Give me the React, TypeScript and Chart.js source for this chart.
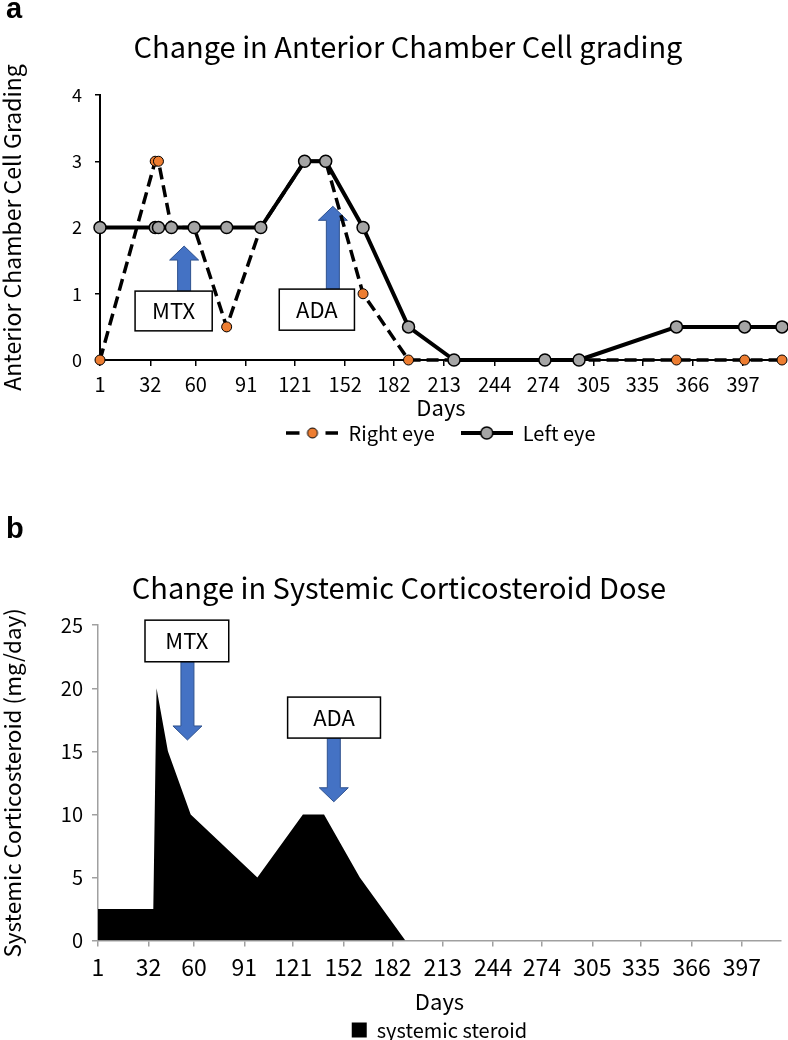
import React, { useEffect, useRef } from 'react';
import { Chart, registerables } from 'chart.js';

Chart.register(...registerables);

// ---------- data ----------
const dayTicks = [1, 32, 60, 91, 121, 152, 182, 213, 244, 274, 305, 335, 366, 397];
const visitDays = [1, 35, 37, 45, 59, 79, 100, 127, 140, 163, 191, 219, 275, 296, 356, 398, 421];
const rightEye = [0, 3, 3, 2, 2, 0.5, 2, 3, 3, 1, 0, 0, 0, 0, 0, 0, 0];
const leftEye = [2, 2, 2, 2, 2, 2, 2, 3, 3, 2, 0.5, 0, 0, 0, 0.5, 0.5, 0.5];

const steroidDays = [1, 35, 37, 44, 58, 99, 127, 140, 162, 190, 219, 275, 296, 356, 398, 421];
const steroidDose = [2.5, 2.5, 20, 15, 10, 5, 10, 10, 5, 0, 0, 0, 0, 0, 0, 0];

const titleA = 'Change in Anterior Chamber Cell grading';
const titleB = 'Change in Systemic Corticosteroid Dose';

// annotation boxes (data coordinates): [day1, day2, val1, val2], arrow at day, from value to value
const notesA = [
  { text: 'MTX', box: [22.6, 70.1, 0.44, 1.04], arrowX: 52.8, arrowFrom: 1.04, arrowTo: 1.72 },
  { text: 'ADA', box: [111.4, 157.7, 0.45, 1.07], arrowX: 144.4, arrowFrom: 1.07, arrowTo: 2.32 },
];
const notesB = [
  { text: 'MTX', box: [29.9, 81.4, 22.1, 25.4], arrowX: 56, arrowFrom: 22.1, arrowTo: 15.9 },
  { text: 'ADA', box: [117.6, 174.7, 16.05, 19.3], arrowX: 146, arrowFrom: 16.05, arrowTo: 11.0 },
];

// ---------- styles ----------
const FONT_JP = '"Noto Sans CJK JP", "Noto Sans", sans-serif';
const ORANGE = '#ED7D31';
const GRAY = '#A5A5A5';
const AXIS_GRAY = '#A0A0A0';

function notesPlugin(notes: any[]) {
  return {
    id: 'notes',
    beforeDatasetsDraw(chart: any) {
      const { ctx } = chart;
      const x = chart.scales.x;
      const y = chart.scales.y;
      notes.forEach((n) => {
        const [d1, d2, v1, v2] = n.box;
        const bx1 = x.getPixelForValue(d1);
        const bx2 = x.getPixelForValue(d2);
        const by1 = y.getPixelForValue(v2);
        const by2 = y.getPixelForValue(v1);
        const ax = x.getPixelForValue(n.arrowX);
        const ay0 = y.getPixelForValue(n.arrowFrom);
        const ay1 = y.getPixelForValue(n.arrowTo);
        const dir = Math.sign(ay1 - ay0);
        const head = 14;
        const hw = 14.5;
        const sw = 6.5;
        const hb = ay1 - dir * head;
        ctx.save();
        ctx.beginPath();
        ctx.moveTo(ax - sw, ay0);
        ctx.lineTo(ax - sw, hb);
        ctx.lineTo(ax - hw, hb);
        ctx.lineTo(ax, ay1);
        ctx.lineTo(ax + hw, hb);
        ctx.lineTo(ax + sw, hb);
        ctx.lineTo(ax + sw, ay0);
        ctx.closePath();
        ctx.fillStyle = '#4472C4';
        ctx.fill();
        ctx.lineWidth = 1;
        ctx.strokeStyle = '#2F528F';
        ctx.stroke();
        ctx.fillStyle = '#fff';
        ctx.fillRect(bx1, by1, bx2 - bx1, by2 - by1);
        ctx.lineWidth = 1.5;
        ctx.strokeStyle = '#000';
        ctx.strokeRect(bx1, by1, bx2 - bx1, by2 - by1);
        ctx.fillStyle = '#000';
        ctx.font = '22px ' + FONT_JP;
        ctx.textAlign = 'center';
        ctx.textBaseline = 'middle';
        ctx.fillText(n.text, (bx1 + bx2) / 2, (by1 + by2) / 2);
        ctx.restore();
      });
    },
  };
}

function makeIcon(dashed: boolean) {
  const c = document.createElement('canvas');
  c.width = 52;
  c.height = 14;
  const g = c.getContext('2d') as CanvasRenderingContext2D;
  g.strokeStyle = '#000';
  g.lineCap = 'butt';
  if (dashed) {
    g.lineWidth = 3.5;
    g.beginPath();
    g.moveTo(0, 7);
    g.lineTo(13, 7);
    g.moveTo(39, 7);
    g.lineTo(52, 7);
    g.stroke();
    g.beginPath();
    g.arc(26, 7, 5, 0, Math.PI * 2);
    g.fillStyle = ORANGE;
    g.fill();
    g.lineWidth = 1;
    g.stroke();
  } else {
    g.lineWidth = 4;
    g.beginPath();
    g.moveTo(0, 7);
    g.lineTo(52, 7);
    g.stroke();
    g.beginPath();
    g.arc(26, 7, 6, 0, Math.PI * 2);
    g.fillStyle = GRAY;
    g.fill();
    g.lineWidth = 1.5;
    g.stroke();
  }
  return c;
}

function ChartA() {
  const ref = useRef<HTMLCanvasElement>(null);
  useEffect(() => {
    const icons = [makeIcon(false), makeIcon(true)];
    const chart = new Chart(ref.current as HTMLCanvasElement, {
      type: 'line',
      data: {
        datasets: [
          {
            label: 'Left eye',
            data: visitDays.map((d, i) => ({ x: d, y: leftEye[i] })),
            borderColor: '#000',
            borderWidth: 4,
            borderJoinStyle: 'round',
            pointRadius: 6,
            pointBackgroundColor: GRAY,
            pointBorderColor: '#000',
            pointBorderWidth: 1.5,
            tension: 0,
            clip: false,
          },
          {
            label: 'Right eye',
            data: visitDays.map((d, i) => ({ x: d, y: rightEye[i] })),
            borderColor: '#000',
            borderWidth: 3.5,
            borderDash: [12, 6],
            pointRadius: 5,
            pointBackgroundColor: ORANGE,
            pointBorderColor: '#000',
            pointBorderWidth: 1,
            tension: 0,
            clip: false,
          },
        ],
      } as any,
      options: {
        animation: false,
        responsive: false,
        layout: { autoPadding: false, padding: { left: 34, right: 6, top: 0, bottom: 0 } },
        scales: {
          x: {
            type: 'linear',
            min: 1,
            max: 421,
            afterBuildTicks: (s: any) => {
              s.ticks = dayTicks.map((v) => ({ value: v }));
            },
            afterFit: (s: any) => {
              s.height = 37;
            },
            ticks: {
              autoSkip: false,
              maxRotation: 0,
              minRotation: 0,
              padding: 6,
              color: '#000',
              font: { family: FONT_JP, size: 20 },
            },
            grid: { drawOnChartArea: false, drawTicks: true, tickLength: 6, color: '#000', lineWidth: 1.5 },
            border: { display: true, color: '#000', width: 2 },
            title: {
              display: true,
              text: 'Days',
              color: '#000',
              font: { family: FONT_JP, size: 22 },
              padding: { top: 0, bottom: -24.2 },
            },
          },
          y: {
            min: 0,
            max: 4,
            afterFit: (s: any) => {
              s.width = 66;
            },
            ticks: { stepSize: 1, padding: 13, color: '#000', font: { family: FONT_JP, size: 18 } },
            grid: { drawOnChartArea: false, drawTicks: true, tickLength: 5, color: '#000', lineWidth: 1.5 },
            border: { display: true, color: '#000', width: 2 },
            title: {
              display: true,
              text: 'Anterior Chamber Cell Grading',
              color: '#000',
              font: { family: FONT_JP, size: 23 },
              padding: { top: -35.8, bottom: 0 },
            },
          },
        },
        plugins: {
          title: {
            display: true,
            text: titleA,
            color: '#000',
            font: { family: FONT_JP, size: 29, weight: 'normal' },
            padding: { top: 29.6, bottom: 30.6 },
          },
          legend: {
            position: 'bottom',
            fullSize: false,
            reverse: true,
            labels: {
              usePointStyle: true,
              pointStyleWidth: 52,
              padding: 26,
              color: '#000',
              font: { family: FONT_JP, size: 20 },
              generateLabels: (ch: any) => {
                const items = (Chart.defaults.plugins.legend.labels as any).generateLabels(ch);
                items.forEach((it: any) => {
                  it.pointStyle = icons[it.datasetIndex];
                });
                return items;
              },
            },
          },
          tooltip: { enabled: false },
        },
      } as any,
      plugins: [notesPlugin(notesA)],
    });
    return () => chart.destroy();
  }, []);
  return (
    <canvas
      ref={ref}
      width={788}
      height={453}
      style={{ position: 'absolute', left: 0, top: 0, width: 788, height: 453, display: 'block' }}
    />
  );
}

function ChartB() {
  const ref = useRef<HTMLCanvasElement>(null);
  useEffect(() => {
    const chart = new Chart(ref.current as HTMLCanvasElement, {
      type: 'line',
      data: {
        datasets: [
          {
            label: 'systemic steroid',
            data: steroidDays.map((d, i) => ({ x: d, y: steroidDose[i] })),
            fill: 'origin',
            backgroundColor: '#000',
            borderColor: '#000',
            borderWidth: 0,
            pointRadius: 0,
            tension: 0,
          },
        ],
      } as any,
      options: {
        animation: false,
        responsive: false,
        layout: { autoPadding: false, padding: { left: 17, right: 7, top: 0, bottom: 0 } },
        scales: {
          x: {
            type: 'linear',
            min: 1,
            max: 421,
            afterBuildTicks: (s: any) => {
              s.ticks = dayTicks.map((v) => ({ value: v }));
            },
            afterFit: (s: any) => {
              s.height = 79.5;
            },
            ticks: {
              autoSkip: false,
              maxRotation: 0,
              minRotation: 0,
              padding: 7,
              color: '#000',
              font: { family: FONT_JP, size: 23 },
            },
            grid: { drawOnChartArea: false, drawTicks: true, tickLength: 6, color: AXIS_GRAY, lineWidth: 1.5 },
            border: { display: true, color: AXIS_GRAY, width: 1.5 },
            title: {
              display: true,
              text: 'Days',
              color: '#000',
              font: { family: FONT_JP, size: 22 },
              padding: { top: 0, bottom: 4.8 },
            },
          },
          y: {
            min: 0,
            max: 25,
            afterFit: (s: any) => {
              s.width = 81;
            },
            ticks: { stepSize: 5, padding: 9, color: '#000', font: { family: FONT_JP, size: 20 } },
            grid: { drawOnChartArea: false, drawTicks: true, tickLength: 6, color: AXIS_GRAY, lineWidth: 1.5 },
            border: { display: true, color: AXIS_GRAY, width: 1.5 },
            title: {
              display: true,
              text: 'Systemic Corticosteroid (mg/day)',
              color: '#000',
              font: { family: FONT_JP, size: 22.5 },
              padding: { top: -18.5, bottom: 0 },
            },
          },
        },
        plugins: {
          title: {
            display: true,
            text: titleB,
            color: '#000',
            font: { family: FONT_JP, size: 29, weight: 'normal' },
            padding: { top: 90.6, bottom: 19.8 },
          },
          legend: {
            position: 'bottom',
            fullSize: false,
            maxHeight: 20,
            labels: {
              boxWidth: 15,
              boxHeight: 15,
              padding: 0,
              color: '#000',
              font: { family: FONT_JP, size: 20 },
            },
          },
          tooltip: { enabled: false },
        },
      } as any,
      plugins: [notesPlugin(notesB)],
    });
    return () => chart.destroy();
  }, []);
  return (
    <canvas
      ref={ref}
      width={788}
      height={560}
      style={{ position: 'absolute', left: 0, top: 480, width: 788, height: 560, display: 'block' }}
    />
  );
}

const panelLabel: React.CSSProperties = {
  position: 'absolute',
  left: 6,
  fontFamily: '"Liberation Sans", Arial, sans-serif',
  fontWeight: 'bold',
  fontSize: 29,
  lineHeight: '29px',
  color: '#000',
};

export default function App() {
  return (
    <div style={{ position: 'absolute', left: 0, top: 0, width: 788, height: 1040, background: '#fff', overflow: 'hidden' }}>
      <ChartA />
      <ChartB />
      <div style={{ ...panelLabel, top: -6.5 }}>a</div>
      <div style={{ ...panelLabel, top: 513.5 }}>b</div>
    </div>
  );
}
